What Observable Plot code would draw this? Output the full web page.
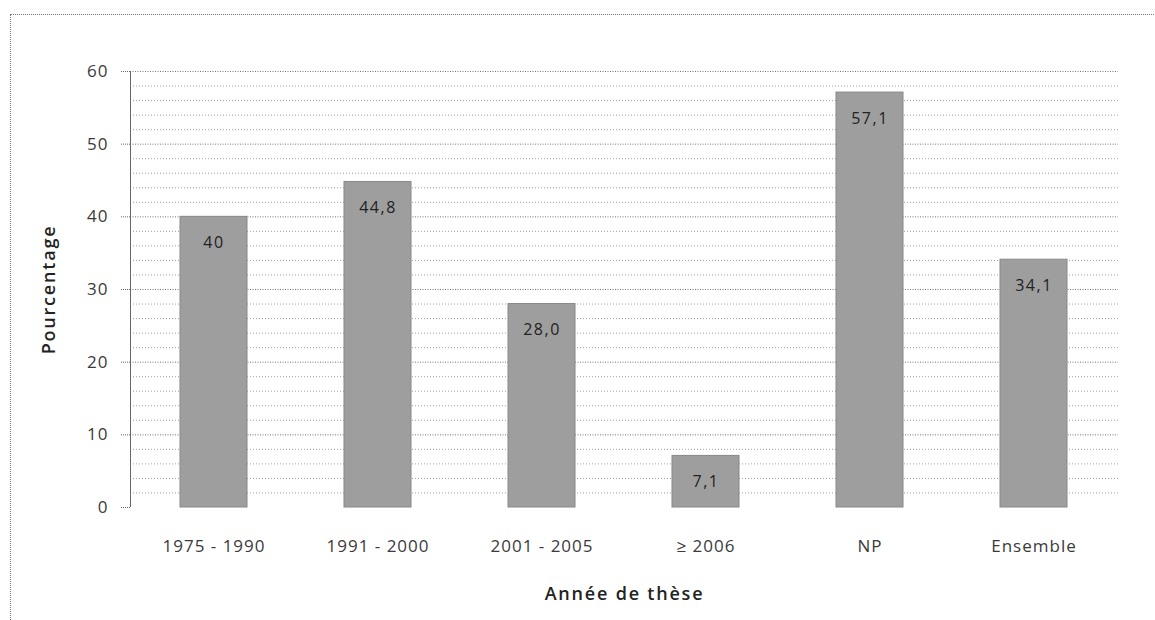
<!DOCTYPE html>
<html>
<head>
<meta charset="utf-8">
<script src="https://cdn.jsdelivr.net/npm/d3@7"></script>
<script src="https://cdn.jsdelivr.net/npm/@observablehq/plot@0.6"></script>
<style>
  html, body { margin: 0; padding: 0; background: #fff; }
  #wrap { position: relative; width: 1155px; height: 620px; overflow: hidden; }
  #frame { position: absolute; left: 10px; top: 14px; width: 1150px; height: 610px;
           border-left: 1px dotted #777; border-top: 1px dotted #777; box-sizing: border-box; }
  #chart { position: absolute; left: 0; top: 0; }
</style>
</head>
<body>
<div id="wrap"><div id="frame"></div><div id="chart"></div></div>
<script>
const categories = ["1975 - 1990", "1991 - 2000", "2001 - 2005", "≥ 2006", "NP", "Ensemble"];
const values = [40, 44.8, 28.0, 7.1, 57.1, 34.1];
const valueLabels = ["40", "44,8", "28,0", "7,1", "57,1", "34,1"];
const yTicks = [0, 10, 20, 30, 40, 50, 60];
const minorGrid = [2, 4, 6, 8, 12, 14, 16, 18, 22, 24, 26, 28, 32, 34, 36, 38, 42, 44, 46, 48, 52, 54, 56, 58];
const majorGrid = [10, 20, 30, 40, 50, 60];

const data = categories.map((c, i) => ({category: c, value: values[i], label: valueLabels[i]}));

const chart = Plot.plot({
  width: 1155,
  height: 620,
  marginLeft: 130,
  marginRight: 37,
  marginTop: 71,
  marginBottom: 113,
  style: {fontFamily: "'Open Sans', Lato, sans-serif", fontSize: "17px", color: "#333", background: "transparent"},
  x: {domain: categories, paddingInner: 0.59, paddingOuter: 0.295},
  y: {domain: [0, 60]},
  marks: [
    Plot.ruleY(minorGrid, {stroke: "#a0a0a0", strokeWidth: 1, strokeDasharray: "1 2"}),
    Plot.ruleY(majorGrid, {stroke: "#777", strokeWidth: 1, strokeDasharray: "1 1.5"}),
    Plot.frame({anchor: "left", stroke: "#666", strokeDasharray: "1 1"}),
    Plot.barY(data, {x: "category", y: "value", fill: "#9e9e9e", stroke: "#888", strokeWidth: 1}),
    Plot.text(data, {x: "category", y: "value", text: "label", dy: 26, fill: "#222", fontSize: 16}),
    Plot.axisY({ticks: yTicks, tickSize: 9, tickPadding: 13, stroke: "#666", strokeDasharray: "1 1",
                fontSize: 17, fill: "#3a3a3a",
                label: "Pourcentage", labelAnchor: "center", labelArrow: "none", labelOffset: 88}),
    Plot.axisX({tickSize: 0, tickPadding: 32, fontSize: 17, fill: "#3a3a3a",
                label: "Année de thèse", labelAnchor: "center", labelArrow: "none", labelOffset: 92})
  ]
});

d3.select(chart).selectAll("[aria-label='x-axis tick label'] text, [aria-label='y-axis tick label'] text")
  .style("letter-spacing", "1px");
d3.select(chart).selectAll("[aria-label='text'] text").style("letter-spacing", "1.5px");
d3.select(chart).selectAll("[aria-label='x-axis label'] text, [aria-label='y-axis label'] text")
  .style("font-weight", "600").style("font-size", "18px").style("fill", "#222").style("letter-spacing", "1.8px");

document.getElementById("chart").appendChild(chart);
</script>
</body>
</html>
